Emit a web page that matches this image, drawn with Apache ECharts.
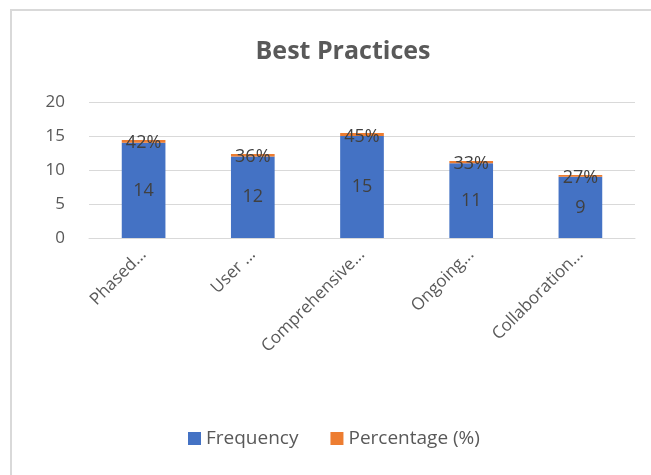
<!DOCTYPE html>
<html>
<head>
<meta charset="utf-8">
<script src="https://cdn.jsdelivr.net/npm/echarts@6/dist/echarts.min.js"></script>
<style>
  html, body { margin: 0; padding: 0; background: #fff; overflow: hidden; }
  #frame { position: absolute; left: 10px; top: 9px; width: 700px; height: 520px; border: 2px solid #d9d9d9; }
  #main { position: absolute; left: 0; top: 0; width: 651px; height: 475px; }
</style>
</head>
<body>
<div id="frame"></div>
<div id="main"></div>
<script>
// values
const categories = ['Phased...', 'User ...', 'Comprehensive...', 'Ongoing...', 'Collaboration...'];
const frequency = [14, 12, 15, 11, 9];
const percentage = [42, 36, 45, 33, 27];
const yTicks = [0, 5, 10, 15, 20];

const chart = echarts.init(document.getElementById('main'));
const font = 'Open Sans, Liberation Sans, sans-serif';

const option = {
  animation: false,
  title: {
    text: 'Best Practices',
    left: 338,
    textAlign: 'center',
    top: 34,
    textStyle: { fontFamily: font, fontSize: 25, fontWeight: 'bold', color: '#595959' }
  },
  legend: {
    bottom: 22,
    left: 183,
    itemWidth: 13,
    itemHeight: 13,
    itemGap: 32,
    icon: 'rect',
    textStyle: { fontFamily: font, fontSize: 19, color: '#595959' },
    data: ['Frequency', 'Percentage (%)']
  },
  grid: { left: 89, right: 16, top: 102, height: 136 },
  xAxis: {
    type: 'category',
    data: categories,
    axisLine: { show: true, lineStyle: { color: '#d9d9d9' } },
    axisTick: { show: false },
    axisLabel: { rotate: 45, fontFamily: font, fontSize: 17, color: '#595959', margin: 14 }
  },
  yAxis: {
    type: 'value',
    min: yTicks[0],
    max: yTicks[yTicks.length - 1],
    interval: 5,
    axisLine: { show: false },
    axisTick: { show: false },
    splitLine: { lineStyle: { color: '#d9d9d9' } },
    axisLabel: { fontFamily: font, fontSize: 17, color: '#595959', margin: 24 }
  },
  series: [
    {
      name: 'Frequency',
      type: 'bar',
      stack: 'a',
      barWidth: '40%',
      itemStyle: { color: '#4472C4' },
      label: { show: true, position: 'inside', fontFamily: font, fontSize: 18, color: '#404040' },
      data: frequency
    },
    {
      name: 'Percentage (%)',
      type: 'bar',
      stack: 'a',
      itemStyle: { color: '#ED7D31' },
      label: {
        show: true,
        position: 'inside',
        offset: [0, 2],
        fontFamily: font,
        fontSize: 18,
        color: '#404040',
        formatter: p => percentage[p.dataIndex] + '%'
      },
      data: percentage.map(v => v / 100)
    }
  ]
};

chart.setOption(option);
</script>
</body>
</html>
